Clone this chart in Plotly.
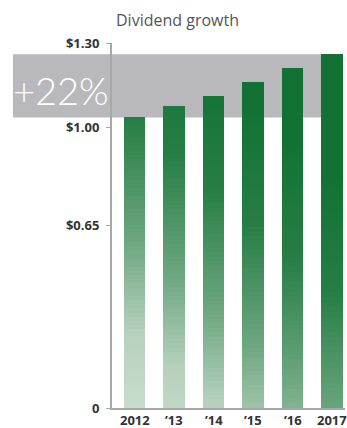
import plotly.graph_objects as go

years = ["2012", "\u201913", "\u201914", "\u201915", "\u201916", "2017"]
dividends = [1.035, 1.075, 1.11, 1.16, 1.21, 1.26]
tick_vals = [0, 0.65, 1.00, 1.30]
tick_text = ["0", "$0.65", "$1.00", "$1.30"]
title = "Dividend growth"

DARK = (18, 114, 52)
LIGHT = (222, 232, 222)
N = 70
ymax = 1.30

SP = [(-0.1, 0.08), (0.15, 0.2), (0.38, 0.55), (0.7, 0.9), (1.0, 1.0), (2.0, 1.0)]

def ramp(s):
    if s <= SP[0][0]:
        return SP[0][1]
    for (a, fa), (b, fb) in zip(SP, SP[1:]):
        if s <= b:
            return fa + (fb - fa) * (s - a) / (b - a)
    return 1.0

def col(t):
    t = max(0.0, min(1.0, t))
    return "rgb(%d,%d,%d)" % tuple(round(LIGHT[i] + (DARK[i] - LIGHT[i]) * t) for i in range(3))

xs = list(range(len(years)))
fig = go.Figure()
for k in range(N):
    bases, heights, colors = [], [], []
    for i, v in enumerate(dividends):
        h = v / N
        b = k * h
        bases.append(b)
        heights.append(h * 1.2 if k < N - 1 else h)
        yfrac = (b + h / 2) / ymax
        xfrac = i / (len(years) - 1)
        colors.append(col(ramp(0.95 * yfrac + 0.45 * xfrac - 0.05)))
    fig.add_trace(go.Bar(x=xs, y=heights, base=bases, width=0.54,
                         marker=dict(color=colors, line=dict(width=0)),
                         hoverinfo="skip", showlegend=False))

growth = round((dividends[-1] / dividends[0] - 1) * 100)
fig.add_shape(type="rect", xref="paper", yref="y", x0=-0.425, x1=0.991,
              y0=dividends[0], y1=dividends[-1], fillcolor="#b9b9bd",
              line=dict(width=0), layer="below")
fig.add_annotation(xref="paper", yref="y", x=-0.435, y=(dividends[0] + dividends[-1]) / 2,
                   yshift=-4, xanchor="left", yanchor="middle", text="+%d%%" % growth,
                   showarrow=False,
                   font=dict(family="Lato", size=38, color="white", weight=300))
fig.add_annotation(xref="paper", yref="paper", x=0.28, y=1.0, yshift=23, xanchor="center",
                   yanchor="middle", text=title, showarrow=False,
                   font=dict(family="Open Sans", size=16, color="#555555"))
for i, lab in enumerate(years):
    fig.add_annotation(xref="x", yref="paper", x=i, y=0, yshift=-12, xanchor="center",
                       yanchor="middle", text=lab, showarrow=False,
                       font=dict(family="Open Sans", size=13, color="#333333", weight="bold"))

fig.update_layout(
    width=347, height=428, margin=dict(l=112, r=2, t=43, b=20),
    paper_bgcolor="white", plot_bgcolor="white", barmode="overlay",
    bargap=0,
    xaxis=dict(range=[-0.575, 5.33], showticklabels=False, showgrid=False,
               zeroline=False, showline=True, linecolor="#a8a8a8", linewidth=2,
               ticks="", automargin=False),
    yaxis=dict(range=[0, ymax], tickvals=tick_vals, ticktext=tick_text, showgrid=False,
               zeroline=False, showline=True, linecolor="#a8a8a8", linewidth=2,
               ticks="outside", ticklen=4, tickcolor="#a8a8a8", tickwidth=1,
               tickfont=dict(family="Open Sans", size=13, color="#333333", weight="bold"),
               ticklabelstandoff=4, automargin=False),
)
fig.write_html("out.html")
